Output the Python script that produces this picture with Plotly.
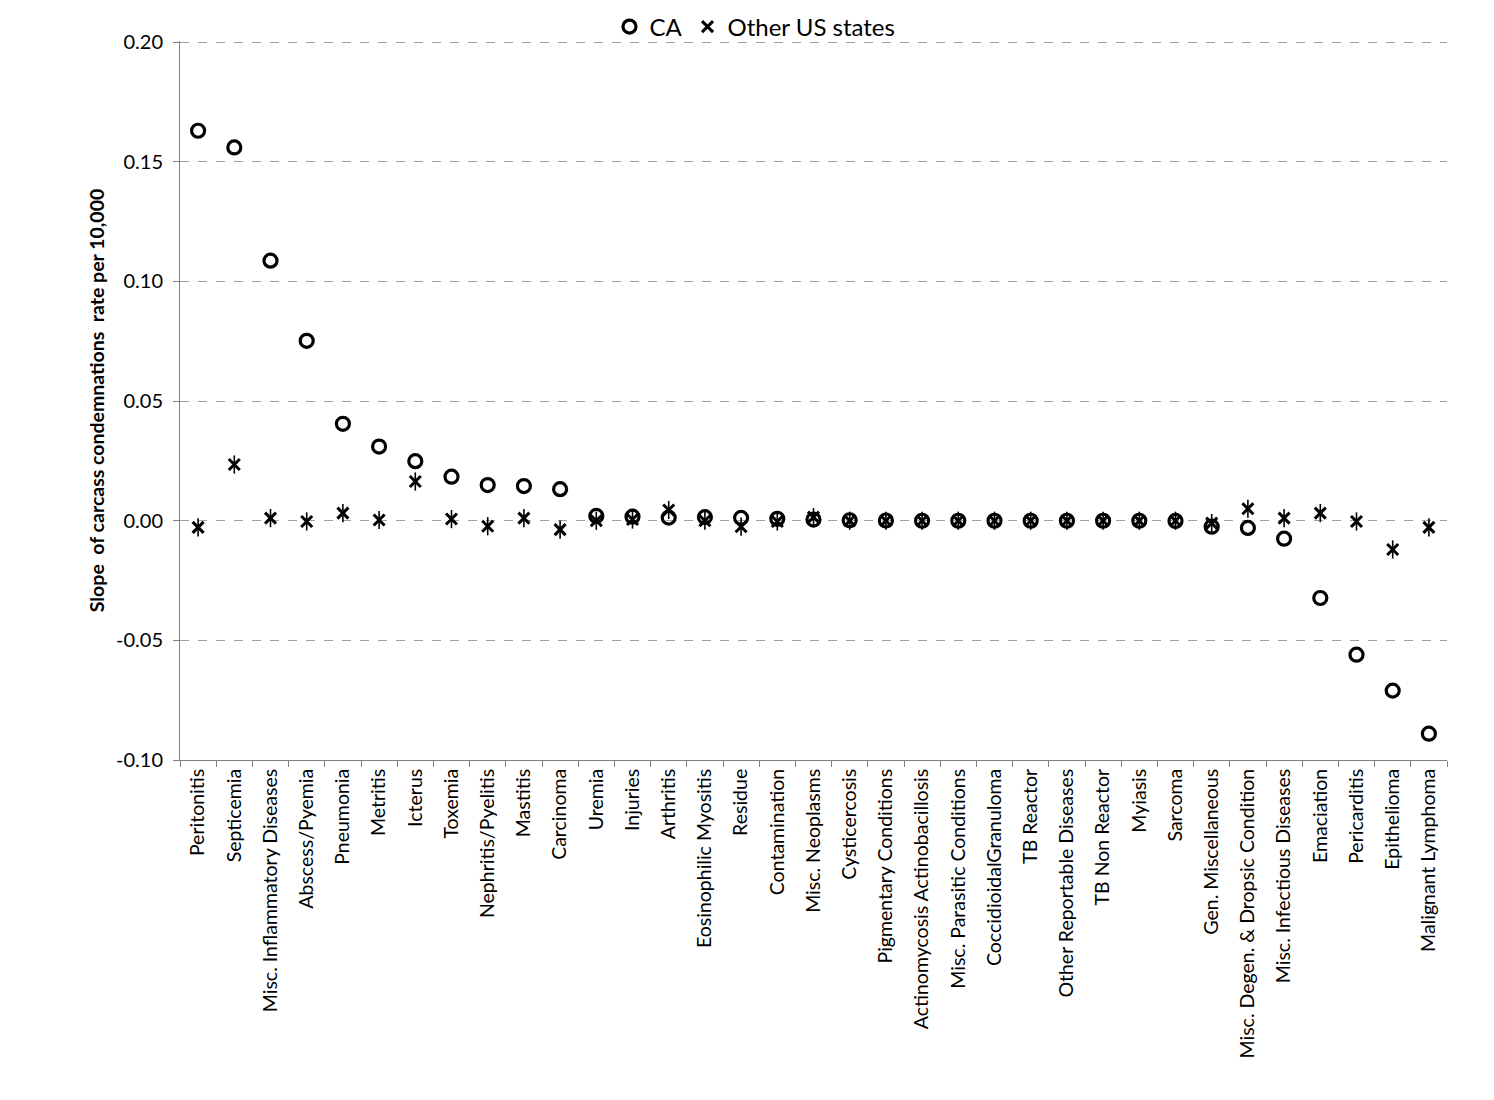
import plotly.graph_objects as go

# Data
diseases = [
    "Peritonitis", "Septicemia", "Misc. Inflammatory Diseases", "Abscess/Pyemia",
    "Pneumonia", "Metritis", "Icterus", "Toxemia", "Nephritis/Pyelitis", "Mastitis",
    "Carcinoma", "Uremia", "Injuries", "Arthritis", "Eosinophilic Myositis", "Residue",
    "Contamination", "Misc. Neoplasms", "Cysticercosis", "Pigmentary Conditions",
    "Actinomycosis Actinobacillosis", "Misc. Parasitic Conditions", "CoccidioidalGranuloma",
    "TB Reactor", "Other Reportable Diseases", "TB Non Reactor", "Myiasis", "Sarcoma",
    "Gen. Miscellaneous", "Misc. Degen. & Dropsic Condition", "Misc. Infectious Diseases",
    "Emaciation", "Pericarditis", "Epithelioma", "Malignant Lymphoma",
]

ca_slope = [
    0.163, 0.156, 0.1087, 0.0752, 0.0405, 0.031, 0.0249, 0.0184, 0.0149, 0.0145,
    0.0132, 0.0020, 0.0017, 0.0013, 0.0015, 0.0012, 0.0008, 0.0005, 0.0002, 0.0001,
    0.0, 0.0, 0.0, 0.0, 0.0, 0.0, 0.0, -0.0001,
    -0.0025, -0.0030, -0.0075, -0.0323, -0.0560, -0.0710, -0.0890,
]

other_slope = [
    -0.0028, 0.0235, 0.0011, -0.0003, 0.0032, 0.0003, 0.0164, 0.0007, -0.0023, 0.0011,
    -0.0037, 0.0, 0.0005, 0.0045, 0.0, -0.0025, -0.0003, 0.0015, 0.0, 0.0,
    0.0, 0.0, 0.0, 0.0, 0.0, 0.0, 0.0, 0.0,
    -0.0010, 0.0050, 0.0011, 0.0032, -0.0003, -0.0120, -0.0028,
]

y_ticks = [-0.10, -0.05, 0.0, 0.05, 0.10, 0.15, 0.20]
y_ticklabels = ["-0.10", "-0.05", "0.00", "0.05", "0.10", "0.15", "0.20"]

font_name = "Lato, Open Sans, sans-serif"

fig = go.Figure()

fig.add_trace(go.Scatter(
    x=diseases, y=ca_slope, mode="markers", name="CA",
    marker=dict(symbol="circle-open", size=13, color="black", line=dict(width=3.2, color="black")),
))

# star marker = x plus a vertical stroke
fig.add_trace(go.Scatter(
    x=diseases, y=other_slope, mode="markers", name="Other US states",
    marker=dict(symbol="x-thin-open", size=11, color="black", line=dict(width=3, color="black")),
))
fig.add_trace(go.Scatter(
    x=diseases, y=other_slope, mode="markers", showlegend=False, hoverinfo="skip",
    marker=dict(symbol="line-ns-open", size=13, color="black", line=dict(width=1.6, color="black")),
))

fig.update_xaxes(
    type="category",
    range=[-0.5, len(diseases) - 0.5],
    tickangle=-90,
    tickson="boundaries",
    ticks="outside",
    ticklen=6,
    tickcolor="#808080",
    showline=True,
    linecolor="#808080",
    linewidth=1,
    showgrid=False,
    tickfont=dict(family=font_name, size=19.5, color="black"),
)

fig.update_yaxes(
    range=[-0.10, 0.2005],
    tickvals=y_ticks,
    ticktext=y_ticklabels,
    ticks="outside",
    ticklen=6,
    tickcolor="#808080",
    showline=True,
    linecolor="#808080",
    linewidth=1,
    showgrid=True,
    gridcolor="#a0a0a0",
    griddash="dash",
    gridwidth=1,
    zeroline=False,
    ticklabelstandoff=6,
    tickfont=dict(family=font_name, size=20, color="black"),
    title=dict(
        text="<b>Slope  of carcass condemnations  rate per 10,000</b>",
        font=dict(family=font_name, size=19.5, color="black"),
        standoff=6,
    ),
)

fig.update_layout(
    width=1494,
    height=1100,
    plot_bgcolor="white",
    paper_bgcolor="white",
    margin=dict(l=172, r=55, t=33, b=348, autoexpand=False),
    showlegend=True,
    legend=dict(
        orientation="h", x=0.5, xanchor="center", xref="container",
        y=1 - 19 / 1100, yanchor="middle", yref="container",
        font=dict(family=font_name, size=24, color="black"),
        bgcolor="rgba(0,0,0,0)",
        tracegroupgap=0,
        itemwidth=30,
    ),
)

fig.write_html("out.html")
